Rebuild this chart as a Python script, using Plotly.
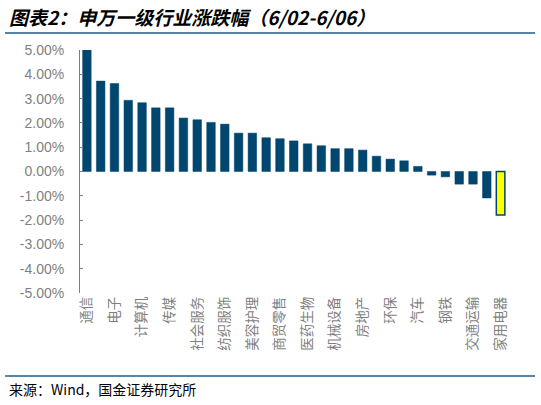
import plotly.graph_objects as go

# 申万一级行业 weekly change, 6/02-6/06 (sorted high to low)
industries = ["通信", "有色金属", "电子", "国防军工", "计算机", "综合", "传媒", "非银金融",
              "社会服务", "基础化工", "纺织服饰", "农林牧渔", "美容护理", "轻工制造",
              "商贸零售", "电力设备", "医药生物", "建筑材料", "机械设备", "建筑装饰",
              "房地产", "公用事业", "环保", "银行", "汽车", "食品饮料", "钢铁", "煤炭",
              "交通运输", "石油石化", "家用电器"]
changes = [5.03, 3.72, 3.62, 2.93, 2.83, 2.62, 2.62, 2.20, 2.13, 2.02, 1.95, 1.58, 1.58,
           1.39, 1.35, 1.26, 1.14, 1.06, 0.94, 0.94, 0.88, 0.63, 0.51, 0.44, 0.21,
           -0.15, -0.22, -0.52, -0.52, -1.09, -1.79]
highlight = "家用电器"

y_ticks = [-5, -4, -3, -2, -1, 0, 1, 2, 3, 4, 5]
y_ticktext = ["%.2f%%" % v for v in y_ticks]
x_tickvals = industries[::2]

bar_blue = "#00466E"
colors = ["#FFFF00" if n == highlight else bar_blue for n in industries]
widths = [1.5 if n == highlight else 0.5 for n in industries]

fig = go.Figure(go.Bar(
    x=industries, y=changes,
    marker=dict(color=colors, line=dict(color=bar_blue, width=widths)),
    width=0.62,
))

fig.update_layout(
    width=541, height=405,
    margin=dict(l=80, r=28, t=50, b=112),
    paper_bgcolor="white", plot_bgcolor="white",
    showlegend=False,
    font=dict(family="Liberation Sans, Arial, sans-serif", color="#7f7f7f"),
)

fig.update_yaxes(
    range=[-5, 5], tickvals=y_ticks, ticktext=y_ticktext,
    showgrid=False, zeroline=False,
    showline=True, linecolor="#7f7f7f", linewidth=1,
    ticks="inside", ticklen=3, tickcolor="#7f7f7f",
    ticklabelstandoff=12,
    tickfont=dict(size=14, color="#7f7f7f"),
)
fig.update_xaxes(
    tickvals=x_tickvals, tickangle=-90,
    showgrid=False, zeroline=False, showline=False, ticks="",
    range=[-0.5, 30.9],
    tickfont=dict(family="Noto Sans CJK SC", size=13.5, color="#7f7f7f"),
)

# title / source decoration
fig.add_shape(type="line", xref="paper", yref="paper", x0=-0.173, x1=1.051,
              y0=1.07, y1=1.07, line=dict(color="#1F5C8A", width=1.5))
fig.add_shape(type="line", xref="paper", yref="paper", x0=-0.173, x1=1.051,
              y0=-0.342, y1=-0.342, line=dict(color="#1F5C8A", width=1.5))
fig.add_annotation(
    text="<b><i>图表2：申万一级行业涨跌幅（6/02-6/06）</i></b>",
    xref="paper", yref="paper", x=-0.168, y=1.136, xanchor="left", yanchor="middle",
    showarrow=False, font=dict(family="Noto Sans CJK SC", size=19, color="black"),
)
fig.add_annotation(
    text="来源：Wind，国金证券研究所",
    xref="paper", yref="paper", x=-0.168, y=-0.395, xanchor="left", yanchor="middle",
    showarrow=False, font=dict(family="Noto Sans CJK SC", size=14, color="black"),
)

# drop the default 8px body margin so the figure fills the window
fig.write_html("out.html", config={"displayModeBar": False},
               post_script="document.body.style.margin = '0';")
